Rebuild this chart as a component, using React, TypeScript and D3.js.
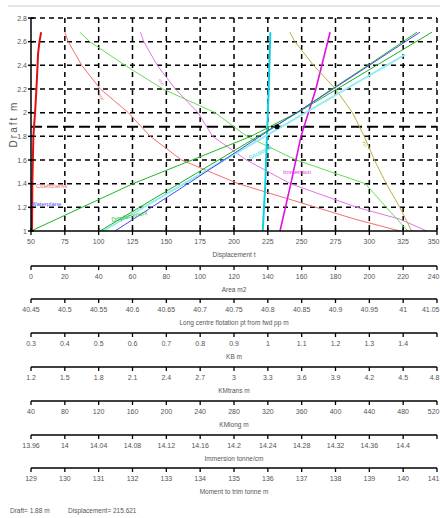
import React from 'react';
import * as d3 from 'd3';

// draft axis (vertical) and the eight horizontal scales
const draftTicks = [1, 1.2, 1.4, 1.6, 1.8, 2, 2.2, 2.4, 2.6, 2.8];
const dispTicks = [50, 75, 100, 125, 150, 175, 200, 225, 250, 275, 300, 325, 350];
const areaTicks = [0, 20, 40, 60, 80, 100, 120, 140, 160, 180, 200, 220, 240];
const lcfTicks = [40.45, 40.5, 40.55, 40.6, 40.65, 40.7, 40.75, 40.8, 40.85, 40.9, 40.95, 41, 41.05];
const kbTicks = [0.3, 0.4, 0.5, 0.6, 0.7, 0.8, 0.9, 1, 1.1, 1.2, 1.3, 1.4, 1.5];
const kmtTicks = [1.2, 1.5, 1.8, 2.1, 2.4, 2.7, 3, 3.3, 3.6, 3.9, 4.2, 4.5, 4.8];
const kmlTicks = [40, 80, 120, 160, 200, 240, 280, 320, 360, 400, 440, 480, 520];
const tpcTicks = [13.96, 14, 14.04, 14.08, 14.12, 14.16, 14.2, 14.24, 14.28, 14.32, 14.36, 14.4, 14.44];
const mctTicks = [129, 130, 131, 132, 133, 134, 135, 136, 137, 138, 139, 140, 141];

const axisTitles = ['Displacement t', 'Area m2', 'Long centre flotation pt from fwd pp m', 'KB m',
  'KMtrans m', 'KMlong m', 'Immersion tonne/cm', 'Moment to trim tonne m'];
const axisTicks = [dispTicks, areaTicks, lcfTicks, kbTicks, kmtTicks, kmlTicks, tpcTicks, mctTicks];
const hideLast = [false, false, false, true, false, false, true, false];

// curves
const dispDrafts = [1.0, 1.2, 1.4, 1.6, 1.8, 2.0, 2.2, 2.4, 2.6, 2.68];
const displacement = [50, 87.7, 125.4, 169.0, 212.6, 246.5, 272.4, 299.0, 324.9, 335.2];
const lcfDrafts = [1.0, 1.2, 1.4, 1.6, 1.8, 2.0, 2.2, 2.4, 2.6, 2.68];
const lcf = [41.007, 40.975, 40.944, 40.842, 40.769, 40.722, 40.645, 40.589, 40.537, 40.522];
const kmlDrafts = [1.0, 1.1, 1.2, 1.4, 1.6, 1.8, 2.0, 2.2, 2.4, 2.6, 2.68];
const kmLong = [476, 423, 377, 285, 218, 181, 155, 122, 100, 84, 80];
const kmtDrafts = [1.0, 1.1, 1.2, 1.4, 1.6, 1.8, 2.0, 2.2, 2.4, 2.6, 2.68];
const kmTrans = [4.71, 4.47, 4.09, 3.5, 3.11, 2.81, 2.68, 2.48, 2.32, 2.2, 2.17];
const kbDrafts = [1.0, 1.4, 1.8, 2.2, 2.68];
const kb = [1.036, 1.068, 1.098, 1.142, 1.184];
const tpcDrafts = [1.0, 1.4, 1.8, 2.2, 2.68];
const tpc = [14.234, 14.237, 14.239, 14.241, 14.243];
const olDrafts = [1.0, 1.2, 1.4, 1.6, 1.8, 2.0, 2.2, 2.4, 2.6, 2.68];
const waterplaneArea = [225, 218, 210, 203, 197, 190, 180, 167, 156, 153];
const coefDrafts = [1.0, 1.4, 1.8, 2.0, 2.2, 2.5, 2.6, 2.68];
const coefficient = [0.303, 0.304, 0.307, 0.312, 0.316, 0.321, 0.325, 0.33];
const wetDrafts = [1.0, 1.4, 1.8, 2.2, 2.68];
const wettedArea = [40.8, 87.5, 134.2, 180.9, 237.0];
const blueDrafts = [1.0, 1.4, 1.8, 2.2, 2.68];
const blueDisp = [112.1, 166.0, 219.2, 273.2, 337.4];
const secDrafts = [1.0, 1.4, 1.8, 2.2, 2.49];
const sectional = [103.2, 163.1, 222.9, 282.8, 326.4];

const draftNow = 1.88;
const dispNow = 231.8;

export default function App() {
  const x0 = 31, x1 = 437;
  const axisY = [231, 266, 299, 333, 367, 401, 435, 468];
  const y = d3.scaleLinear().domain([1, 2.8]).range([231, 18]);
  const scales = axisTicks.map(t => d3.scaleLinear().domain([t[0], t[t.length - 1]]).range([x0, x1]));
  const [sDisp, sArea, sLcf, sKb, sKmt, sKml, sTpc] = scales;

  const path = (s: any, ds: number[], vs: number[]) =>
    d3.line<number>().x((v) => s(v)).y((_, i) => y(ds[i]))(vs) || '';

  const curves = [
    { d: path(sKb, coefDrafts, coefficient), c: '#e01010', w: 2 },
    { d: path(sKml, kmlDrafts, kmLong), c: '#f07070', w: 1 },
    { d: path(sLcf, lcfDrafts, lcf), c: '#66dd55', w: 1 },
    { d: path(sKmt, kmtDrafts, kmTrans), c: '#e276e6', w: 1 },
    { d: path(sTpc, tpcDrafts, tpc), c: '#10d0e0', w: 2 },
    { d: path(sKb, kbDrafts, kb), c: '#e010e0', w: 1.6 },
    { d: path(sArea, olDrafts, waterplaneArea), c: '#bcb040', w: 1 },
    { d: path(sDisp, secDrafts, sectional), c: '#90eef0', w: 2 },
    { d: path(sDisp, dispDrafts, displacement), c: '#22b522', w: 1 },
    { d: path(sArea, wetDrafts, wettedArea), c: '#22aa22', w: 1 },
    { d: path(sDisp, blueDrafts, blueDisp), c: '#4848ee', w: 1 },
  ];

  const font = 'Liberation Sans, Arial, sans-serif';
  const txt = '#555';

  return (
    <svg width={440} height={518} style={{ position: 'absolute', left: 0, top: 0, background: '#fff' }} fontFamily={font}>
      <line x1={8} x2={440} y1={6} y2={6} stroke="#ccc" />

      {/* grid */}
      {draftTicks.slice(1).map(t => (
        <line key={'h' + t} x1={x0} x2={x1} y1={y(t)} y2={y(t)} stroke="#000" strokeWidth={1.5} strokeDasharray="5,4" />
      ))}
      {dispTicks.slice(1).map(t => (
        <line key={'v' + t} x1={sDisp(t)} x2={sDisp(t)} y1={y(2.8)} y2={y(1)} stroke="#000" strokeWidth={1.5} strokeDasharray="5,4" />
      ))}
      <line x1={x0} x2={x1} y1={y(draftNow)} y2={y(draftNow)} stroke="#000" strokeWidth={2} strokeDasharray="11,5" />

      {/* curves */}
      {curves.map((c, i) => (
        <path key={i} d={c.d} fill="none" stroke={c.c} strokeWidth={c.w} />
      ))}
      <circle cx={sDisp(dispNow)} cy={y(draftNow)} r={2.5} fill="#000" />

      {/* curve labels */}
      <text x={36} y={188} fontSize={6} fill="#f06060">Coefficients</text>
      <text x={31} y={206} fontSize={6} fill="#5050ee">Waterplane</text>
      <text x={112} y={222} fontSize={6} fill="#22bb22" transform="rotate(-12,112,222)">Displacement</text>
      <text x={250} y={160} fontSize={6} fill="#30d8e8" transform="rotate(-28,250,160)">Sectional</text>
      <text x={283} y={174} fontSize={6} fill="#e030e0">Immersion</text>
      <text x={98} y={95} fontSize={4} fill="#f07070" transform="rotate(55,98,95)">KMl</text>
      <text x={158} y={80} fontSize={4} fill="#e276e6" transform="rotate(55,158,80)">KMt</text>
      <text x={362} y={142} fontSize={4} fill="#bcb040" transform="rotate(60,362,142)">Wp</text>

      {/* left axis */}
      <line x1={x0} x2={x0} y1={y(2.8)} y2={y(1)} stroke="#000" strokeWidth={1.5} />
      {draftTicks.map(t => (
        <g key={'yt' + t}>
          <line x1={x0 - 3} x2={x0 + 3} y1={y(t)} y2={y(t)} stroke="#000" strokeWidth={1.5} />
          <text x={x0 - 4} y={y(t) + 2.5} fontSize={7} fill={txt} textAnchor="end">{t}</text>
        </g>
      ))}
      <text x={17} y={124} fontSize={10} fill={txt} letterSpacing={2} textAnchor="middle" transform="rotate(-90,17,124)">Draft m</text>

      {/* horizontal axes */}
      {scales.map((s, k) => (
        <g key={'ax' + k}>
          <line x1={x0} x2={x1} y1={axisY[k]} y2={axisY[k]} stroke="#000" strokeWidth={k === 0 ? 1.5 : 1.3} />
          {axisTicks[k].map((t, i) => {
            const last = i === axisTicks[k].length - 1;
            return (
              <g key={i}>
                <line x1={s(t)} x2={s(t)} y1={axisY[k] - (k === 0 ? 3 : 0)} y2={axisY[k] + 4} stroke="#000" strokeWidth={1.3} />
                {!(hideLast[k] && last) && (
                  <text x={last ? 439.5 : s(t)} y={axisY[k] + 13} fontSize={7} fill={txt}
                    textAnchor={last ? 'end' : 'middle'}>{t}</text>
                )}
              </g>
            );
          })}
          <text x={234} y={axisY[k] + 26} fontSize={6.5} fill={txt} textAnchor="middle">{axisTitles[k]}</text>
        </g>
      ))}

      <text x={10} y={513} fontSize={6.5} fill={txt}>Draft= 1.88 m</text>
      <text x={68} y={513} fontSize={6.5} fill={txt}>Displacement= 215.621</text>
    </svg>
  );
}
